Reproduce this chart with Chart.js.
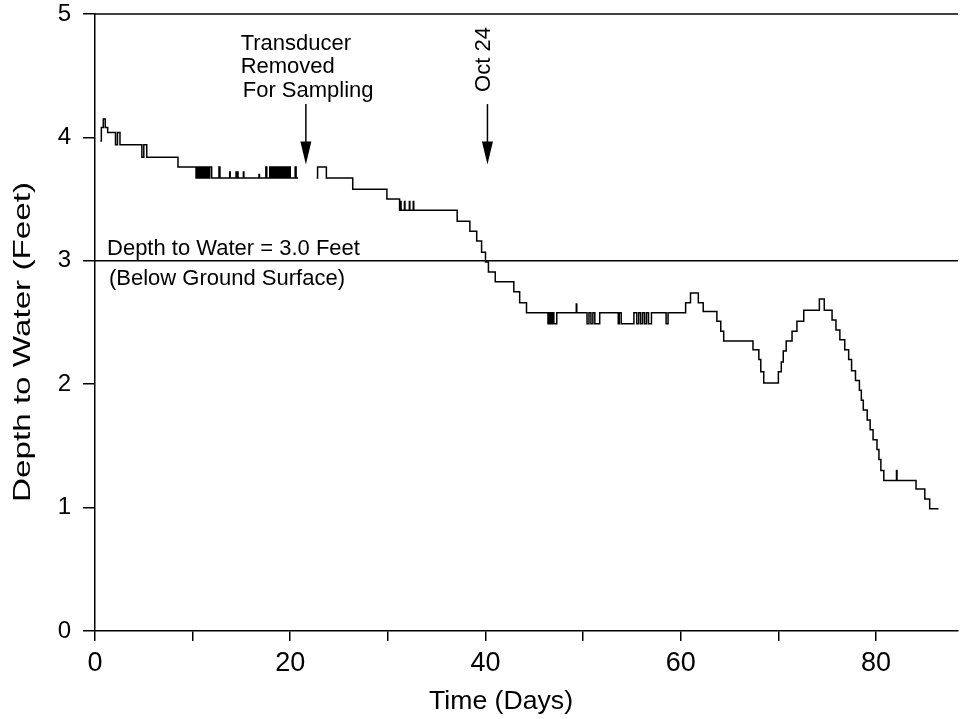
<!DOCTYPE html>
<html>
<head>
<meta charset="utf-8">
<script src="https://cdn.jsdelivr.net/npm/chart.js@4/dist/chart.umd.min.js"></script>
<style>
  body { margin: 0; background: #fff; }
</style>
</head>
<body>
<canvas id="well-chart" width="961" height="719"></canvas>
<script>
// water level record, step changes
// (day where the reading changes, new depth); null = transducer out of the well
let dayValues = [
  0.55, 0.65, 0.85, 1.05, 1.3,
  2.1, 2.3, 2.56,
  4.8, 5.0, 5.3,
  8.5,
  10.35, 10.5, 10.6, 10.75, 10.85, 11.0, 11.1, 11.25, 11.35, 11.5, 11.6, 11.75, 11.95,
  12.7, 12.8, 13.8, 13.85, 14.45, 14.5, 14.6, 14.65, 15.2, 15.25, 16.8, 16.85, 17.5, 17.6,
  17.9, 18.0, 18.1, 18.2, 18.3, 18.4, 18.5, 18.6, 18.7, 18.8, 18.9,
  19.0, 19.1, 19.2, 19.3, 19.4, 19.5, 19.6, 19.7, 19.8, 19.9, 20.0,
  20.5, 20.6, 20.8, 20.85,
  22.7, 22.8, 23.7,
  26.4, 29.9,
  31.2, 31.3, 31.35, 31.7, 31.75, 32.2, 32.25, 32.6, 32.65,
  37.1, 38.4, 39.1, 39.6, 40.0, 40.3, 41.0, 42.9, 43.5, 44.2,
  46.4, 46.5, 46.6, 46.7, 46.8, 46.9, 47.0, 47.3,
  49.3, 49.35,
  50.4, 50.6, 50.8, 51.0, 51.2, 51.7,
  53.6, 53.7, 53.9, 55.2, 55.5, 55.7, 55.9, 56.1, 56.3, 56.5, 56.7, 57.0,
  58.5, 58.7,
  60.5, 61.0, 61.8, 62.3, 63.7, 64.1, 64.4, 67.4, 68.0, 68.2, 68.5,
  70.0, 70.3, 70.5, 70.8, 71.4, 71.9, 72.6, 74.2, 74.7, 75.5, 75.9, 76.3,
  76.8, 77.2, 77.5, 77.9, 78.3, 78.5, 78.7, 79.1, 79.4, 79.7, 80.1, 80.3, 80.5, 80.8,
  82.1, 82.15, 84.1, 85.0, 85.5, 86.4
];
let depthValues = [
  3.97, 4.08, 4.15, 4.08, 4.04,
  3.94, 4.04, 3.94,
  3.84, 3.94, 3.84,
  3.76,
  3.67, 3.76, 3.67, 3.76, 3.67, 3.76, 3.67, 3.76, 3.67, 3.76, 3.67, 3.76, 3.67,
  3.76, 3.67, 3.72, 3.67, 3.72, 3.67, 3.72, 3.67, 3.72, 3.67, 3.70, 3.67, 3.76, 3.67,
  3.76, 3.67, 3.76, 3.67, 3.76, 3.67, 3.76, 3.67, 3.76, 3.67, 3.76,
  3.67, 3.76, 3.67, 3.76, 3.67, 3.76, 3.67, 3.76, 3.67, 3.76, 3.67,
  3.76, 3.67, 3.67, null,
  3.67, 3.76, 3.67,
  3.58, 3.50,
  3.41, 3.48, 3.41, 3.48, 3.41, 3.48, 3.41, 3.48, 3.41,
  3.32, 3.24, 3.16, 3.07, 2.99, 2.91, 2.83, 2.75, 2.66, 2.58,
  2.49, 2.58, 2.49, 2.58, 2.49, 2.58, 2.49, 2.58,
  2.65, 2.58,
  2.49, 2.58, 2.49, 2.58, 2.49, 2.58,
  2.49, 2.58, 2.49, 2.58, 2.49, 2.58, 2.49, 2.58, 2.49, 2.58, 2.49, 2.58,
  2.49, 2.58,
  2.66, 2.74, 2.66, 2.59, 2.51, 2.43, 2.35, 2.28, 2.20, 2.10, 2.01,
  2.10, 2.18, 2.27, 2.35, 2.43, 2.51, 2.60, 2.69, 2.60, 2.52, 2.44, 2.36,
  2.28, 2.20, 2.11, 2.03, 1.95, 1.87, 1.79, 1.71, 1.63, 1.55, 1.47, 1.39, 1.30, 1.22,
  1.30, 1.22, 1.15, 1.07, 0.99, 0.99
];

let referenceDepth = 3.0;
let xTicks = [0, 10, 20, 30, 40, 50, 60, 70, 80];
let xLabels = [0, 20, 40, 60, 80];
let yTicks = [0, 1, 2, 3, 4, 5];
let xMax = 88.4;

// callouts drawn on top of the plot
let notes = [
  { text: "Transducer", day: 14.92, depth: 4.708 },
  { text: "Removed", day: 14.92, depth: 4.522 },
  { text: "For Sampling", day: 15.13, depth: 4.327 },
  { text: "Depth to Water = 3.0 Feet", day: 1.23, depth: 3.047 },
  { text: "(Below Ground Surface)", day: 1.43, depth: 2.804 }
];
let arrowDays = [21.6, 40.2];
let arrowTop = 4.27;
let arrowTip = 3.78;

let points = dayValues.map((d, i) => ({ x: d, y: depthValues[i] }));

const font = "'Liberation Sans', Arial, sans-serif";

const annotate = {
  id: "annotate",
  afterDraw(chart) {
    const ctx = chart.ctx;
    const a = chart.chartArea;
    const x = chart.scales.x, y = chart.scales.y;
    ctx.save();
    ctx.strokeStyle = "#000";
    ctx.fillStyle = "#000";
    ctx.lineWidth = 1.5;

    // top frame
    ctx.beginPath();
    ctx.moveTo(a.left, a.top);
    ctx.lineTo(a.right, a.top);
    ctx.stroke();

    // arrows
    arrowDays.forEach(d => {
      let px = x.getPixelForValue(d);
      let y0 = y.getPixelForValue(arrowTop);
      let y1 = y.getPixelForValue(arrowTip);
      ctx.beginPath();
      ctx.moveTo(px, y0);
      ctx.lineTo(px, y1 - 20);
      ctx.stroke();
      ctx.beginPath();
      ctx.moveTo(px - 5.5, y1 - 23);
      ctx.lineTo(px + 5.5, y1 - 23);
      ctx.lineTo(px, y1);
      ctx.closePath();
      ctx.fill();
    });

    // notes
    ctx.font = "22px " + font;
    ctx.textAlign = "left";
    ctx.textBaseline = "alphabetic";
    notes.forEach(n => {
      ctx.fillText(n.text, x.getPixelForValue(n.day), y.getPixelForValue(n.depth));
    });

    // Oct 24, written upward
    ctx.save();
    ctx.translate(x.getPixelForValue(39.84), y.getPixelForValue(4.631));
    ctx.rotate(-Math.PI / 2);
    ctx.textAlign = "center";
    ctx.textBaseline = "middle";
    ctx.fillText("Oct 24", 0, 0);
    ctx.restore();

    // axis titles
    ctx.save();
    ctx.font = "24px " + font;
    ctx.translate(23, 342);
    ctx.rotate(-Math.PI / 2);
    let t = "Depth to Water (Feet)";
    ctx.scale(320 / ctx.measureText(t).width, 1);
    ctx.textAlign = "center";
    ctx.textBaseline = "middle";
    ctx.fillText(t, 0, 0);
    ctx.restore();

    ctx.save();
    ctx.font = "26px " + font;
    ctx.translate(501, 702);
    t = "Time (Days)";
    ctx.scale(144 / ctx.measureText(t).width, 1);
    ctx.textAlign = "center";
    ctx.textBaseline = "middle";
    ctx.fillText(t, 0, 0);
    ctx.restore();

    ctx.restore();
  }
};

let ctx = document.getElementById("well-chart").getContext("2d");
let wellChart = new Chart(ctx, {
  type: "line",
  data: {
    datasets: [
      {
        label: "Depth to water",
        data: points,
        borderColor: "#000",
        borderWidth: 1.5,
        pointRadius: 0,
        stepped: "before",
        spanGaps: false,
        fill: false
      },
      {
        label: "3.0 ft",
        data: [{ x: 0, y: referenceDepth }, { x: xMax, y: referenceDepth }],
        borderColor: "#000",
        borderWidth: 1.5,
        pointRadius: 0,
        fill: false
      }
    ]
  },
  options: {
    responsive: false,
    animation: false,
    devicePixelRatio: 1,
    layout: { padding: { top: 14, right: 3, left: 0, bottom: 0 } },
    plugins: { legend: { display: false }, tooltip: { enabled: false } },
    scales: {
      x: {
        type: "linear",
        min: 0,
        max: xMax,
        afterBuildTicks: s => { s.ticks = xTicks.map(v => ({ value: v })); },
        afterFit: s => { s.height = 88; s.paddingLeft = 0; s.paddingRight = 0; },
        ticks: {
          callback: v => xLabels.includes(v) ? String(v) : "",
          color: "#000",
          font: { family: font, size: 27 },
          padding: 6,
          maxRotation: 0,
          autoSkip: false
        },
        grid: { drawOnChartArea: false, color: "#000", lineWidth: 1.5, tickLength: 10 },
        border: { color: "#000", width: 1.5 }
      },
      y: {
        min: 0,
        max: 5,
        afterBuildTicks: s => { s.ticks = yTicks.map(v => ({ value: v })); },
        afterFit: s => { s.width = 95; s.paddingTop = 0; s.paddingBottom = 0; },
        ticks: {
          color: "#000",
          font: { family: font, size: 24 },
          padding: 12
        },
        grid: { drawOnChartArea: false, color: "#000", lineWidth: 1.5, tickLength: 12 },
        border: { color: "#000", width: 1.5 }
      }
    }
  },
  plugins: [annotate]
});
</script>
</body>
</html>
